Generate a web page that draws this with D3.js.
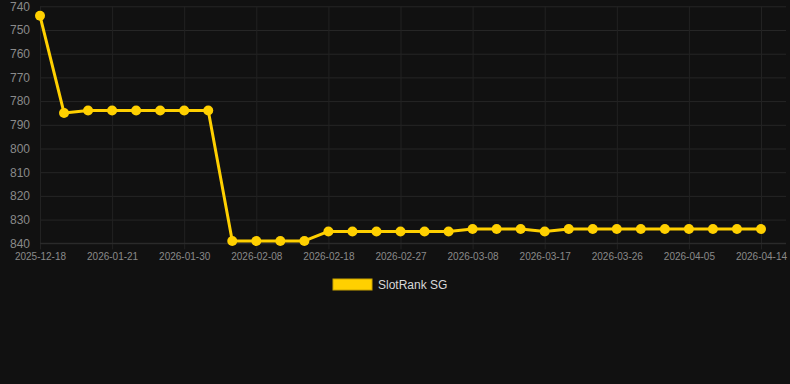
<!DOCTYPE html>
<html>
<head>
<meta charset="utf-8">
<script src="https://cdn.jsdelivr.net/npm/d3@7"></script>
<style>
  html, body { margin: 0; padding: 0; background: #111111; }
  svg { display: block; font-family: "Liberation Sans", Arial, sans-serif; }
</style>
</head>
<body>
<div id="chart"></div>
<script>
const canvas_w = 790;
const canvas_h = 384;

// category labels (one per point), only every 3rd is shown on the axis
const dates = [
  '2025-12-18', '2025-12-21', '2026-01-18', '2026-01-21', '2026-01-24', '2026-01-27',
  '2026-01-30', '2026-02-02', '2026-02-05', '2026-02-08', '2026-02-12', '2026-02-15',
  '2026-02-18', '2026-02-21', '2026-02-24', '2026-02-27', '2026-03-02', '2026-03-05',
  '2026-03-08', '2026-03-11', '2026-03-14', '2026-03-17', '2026-03-20', '2026-03-23',
  '2026-03-26', '2026-03-29', '2026-04-02', '2026-04-05', '2026-04-08', '2026-04-11',
  '2026-04-14'
];
const ranks = [
  744, 785, 784, 784, 784, 784, 784, 784,
  839, 839, 839, 839,
  835, 835, 835, 835, 835, 835,
  834, 834, 834,
  835,
  834, 834, 834, 834, 834, 834, 834, 834, 834
];
const yTicks = [740, 750, 760, 770, 780, 790, 800, 810, 820, 830, 840];
const seriesName = 'SlotRank SG';

const plotLeft = 40, plotRight = 786, plotTop = 6.3, plotBottom = 243.3;
const lineColour = '#FFD000';

let x = d3.scalePoint()
          .domain( dates )
          .range( [ plotLeft, 761 ] );

let y = d3.scaleLinear()
          .domain( [ 740, 840 ] )
          .range( [ plotTop, plotBottom ] );

let svg = d3.select( '#chart' )
            .append( 'svg' )
            .attr( 'width', canvas_w )
            .attr( 'height', canvas_h );

svg.append( 'rect' )
   .attr( 'width', canvas_w )
   .attr( 'height', canvas_h )
   .attr( 'fill', '#111111' );

// horizontal grid + y labels
let yAxis = d3.axisLeft( y )
              .tickValues( yTicks )
              .tickSize( -( plotRight - plotLeft ) )
              .tickPadding( 8 );

let gy = svg.append( 'g' )
            .attr( 'transform', `translate(${plotLeft},0)` )
            .call( yAxis );
gy.select( '.domain' ).remove();
gy.selectAll( '.tick line' ).attr( 'stroke', '#262626' );
gy.selectAll( '.tick text' )
  .attr( 'fill', '#8a8a8a' )
  .attr( 'font-size', 12 )
  .attr( 'x', -10 );

// vertical grid + x labels
let shown = dates.filter( ( d, i ) => i % 3 === 0 );
let xAxis = d3.axisBottom( x )
              .tickValues( shown )
              .tickSize( 0 )
              .tickPadding( 10 );

let gx = svg.append( 'g' )
            .attr( 'transform', `translate(0,${plotBottom})` )
            .call( xAxis );
gx.select( '.domain' ).remove();
gx.selectAll( '.tick line' )
  .attr( 'y1', -( plotBottom - plotTop ) )
  .attr( 'y2', 6 )
  .attr( 'stroke', '#222222' );
gx.selectAll( '.tick text' )
  .attr( 'fill', '#8a8a8a' )
  .attr( 'font-size', 10 );

// baseline a bit brighter
svg.append( 'line' )
   .attr( 'x1', plotLeft ).attr( 'x2', plotRight )
   .attr( 'y1', plotBottom ).attr( 'y2', plotBottom )
   .attr( 'stroke', '#2e2e2e' );

let pts = dates.map( ( d, i ) => ( { d: d, v: ranks[i] } ) );

let line = d3.line()
             .x( p => x( p.d ) )
             .y( p => y( p.v ) );

svg.append( 'path' )
   .datum( pts )
   .attr( 'd', line )
   .attr( 'fill', 'none' )
   .attr( 'stroke', lineColour )
   .attr( 'stroke-width', 3 )
   .attr( 'stroke-linejoin', 'round' );

svg.selectAll( 'circle' )
   .data( pts )
   .enter()
   .append( 'circle' )
   .attr( 'cx', p => x( p.d ) )
   .attr( 'cy', p => y( p.v ) )
   .attr( 'r', 5 )
   .attr( 'fill', lineColour );

// legend
let legend = svg.append( 'g' ).attr( 'transform', 'translate(333,279)' );
legend.append( 'rect' )
      .attr( 'width', 39 )
      .attr( 'height', 11 )
      .attr( 'fill', lineColour )
      .attr( 'stroke', '#c9a400' )
      .attr( 'stroke-width', 1 );
legend.append( 'text' )
      .attr( 'x', 45 )
      .attr( 'y', 10 )
      .attr( 'fill', '#d8d8d8' )
      .attr( 'font-size', 12 )
      .text( seriesName );
</script>
</body>
</html>
